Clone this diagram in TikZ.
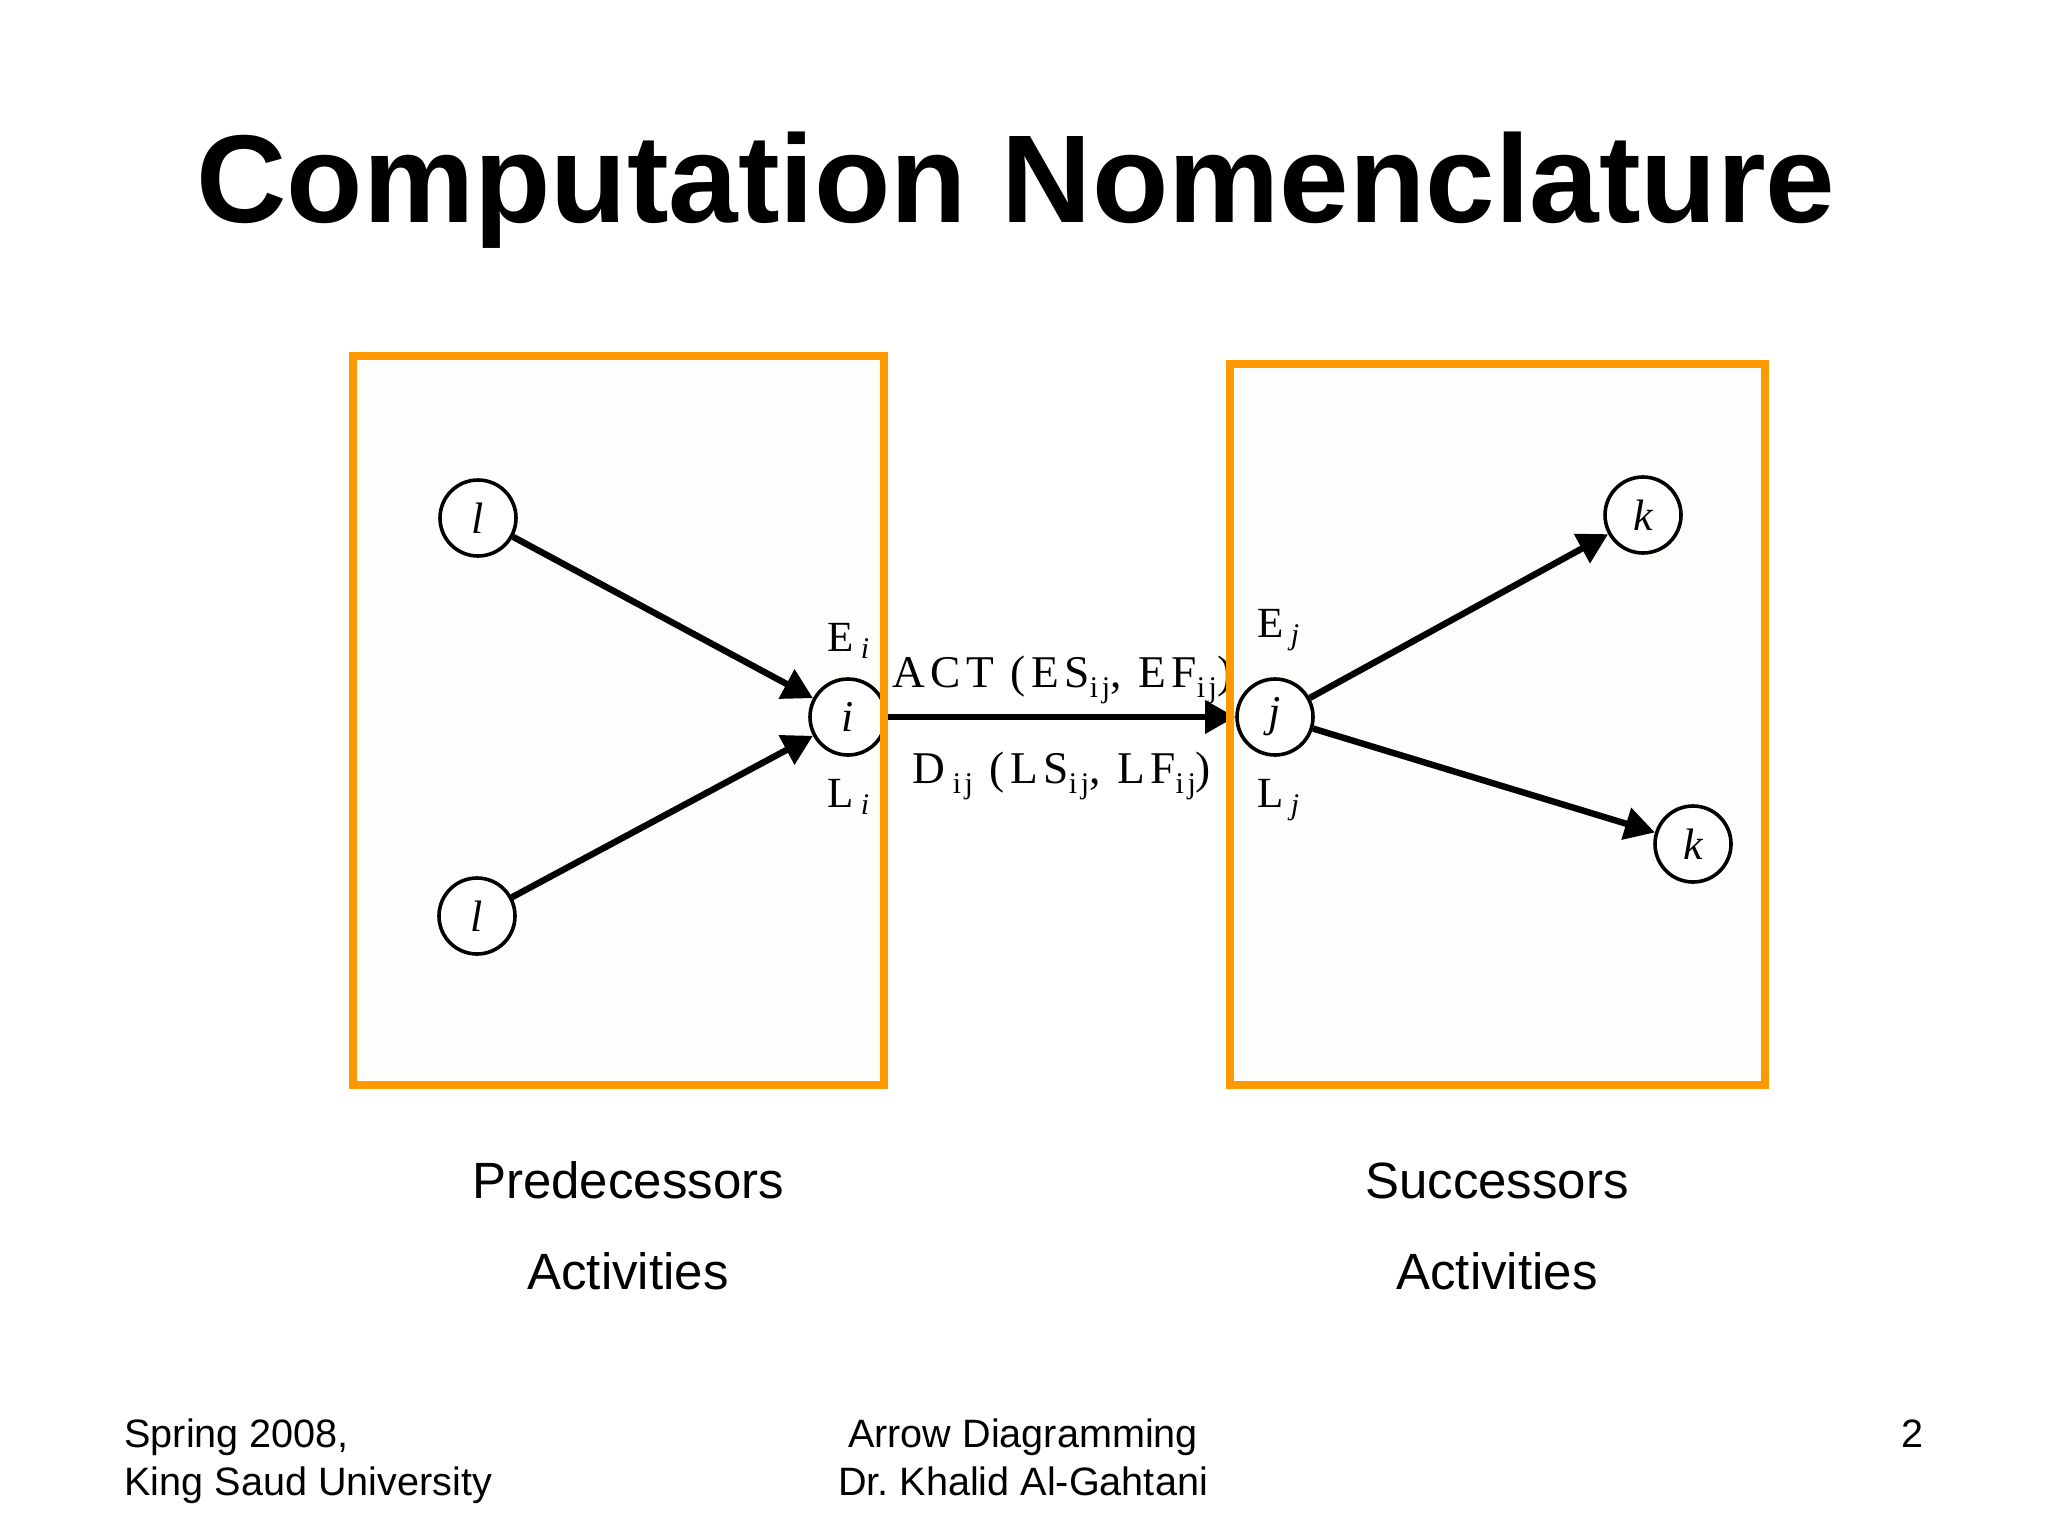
\documentclass[tikz,border=0pt]{standalone}
\usepackage{fontspec}
\setmainfont{Liberation Serif}
\setsansfont{Liberation Sans}
\newfontfamily\spacedserif[LetterSpace=12]{Liberation Serif}
\usetikzlibrary{arrows.meta}
\definecolor{boxorange}{RGB}{255,153,0}
\definecolor{boxfill}{RGB}{253,253,251}
\newcommand\sbs[1]{\raisebox{-5pt}{\fontsize{15}{15}\selectfont #1}}
\newcommand\evsub[1]{\,\raisebox{-3.5pt}{\fontsize{15}{15}\selectfont\itshape #1}}
\frenchspacing
\tikzset{
  evt/.style={circle, draw=black, line width=1.8pt, minimum size=38pt, inner sep=0pt,
    font=\fontsize{22}{22}\selectfont\itshape, fill=white},
  act/.style={line width=3.2pt, -{Triangle[length=15pt,width=16pt]}},
  frame/.style={draw=boxorange, line width=4pt},
  lbl/.style={anchor=base west, inner sep=0pt, font=\spacedserif\fontsize{22.7}{22.7}\selectfont},
  evlbl/.style={anchor=base west, inner sep=0pt, font=\spacedserif\fontsize{21.5}{21.5}\selectfont},
  captext/.style={anchor=base, inner sep=0pt, font=\sffamily\fontsize{25.5}{25.5}\selectfont},
  foot/.style={inner sep=0pt, font=\sffamily\fontsize{19.8}{19.8}\selectfont}
}
\begin{document}
\begin{tikzpicture}[x=0.5pt,y=-0.5pt]
\useasboundingbox (0,0) rectangle (2048,1536);
\fill[white] (0,0) rectangle (2048,1536);
% box fills
\fill[boxfill] (353,356) rectangle (884,1085);
\fill[boxfill] (1230,364) rectangle (1765,1085);
% title
\node[anchor=base, inner sep=0pt, font=\sffamily\bfseries\fontsize{62.5}{62.5}\selectfont] (title) at (1016,222) {Computation Nomenclature};
% events
\node[evt] (l1) at (478,518) {l};
\node[evt] (l2) at (477,916) {l};
\node[evt] (i) at (848,717) {i};
\node[evt] (j) at (1275,717) {j};
\node[evt] (k1) at (1643,515) {k};
\node[evt] (k2) at (1693,844) {k};
% activities
\draw[act] (l1) -- (i);
\draw[act] (l2) -- (i);
\draw[act] (i) -- (j);
\draw[act] (j) -- (k1);
\draw[act] (j) -- (k2);
% labels
\node[evlbl] (Ei) at (827,651) {E\evsub{i}};
\node[evlbl] (Li) at (827,807) {L\evsub{i}};
\node[evlbl] (Ej) at (1257,637) {E\evsub{j}};
\node[evlbl] (Lj) at (1257,807) {L\evsub{j}};
\node[lbl] (actlbl) at (892,687) {ACT (ES\sbs{ij}, EF\sbs{ij})};
\node[lbl] (durlbl) at (912,783) {D\,\sbs{ij} (LS\sbs{ij}, LF\sbs{ij})};
% frames on top
\draw[frame] (353,356) rectangle (884,1085);
\draw[frame] (1230,364) rectangle (1765,1085);
% captions
\node[captext] (pred) at (628,1198) {Predecessors};
\node[captext] (pact) at (628,1289) {Activities};
\node[captext] (succ) at (1497,1198) {Successors};
\node[captext] (sact) at (1497,1289) {Activities};
% footer
\node[foot, anchor=base west] (f1) at (124,1447) {Spring 2008,};
\node[foot, anchor=base west] (f2) at (124,1495) {King Saud University};
\node[foot, anchor=base] (f3) at (1023,1447) {Arrow Diagramming};
\node[foot, anchor=base] (f4) at (1023,1495) {Dr. Khalid Al-Gahtani};
\node[foot, anchor=base east] (f5) at (1924,1447) {2};
\end{tikzpicture}
\end{document}
